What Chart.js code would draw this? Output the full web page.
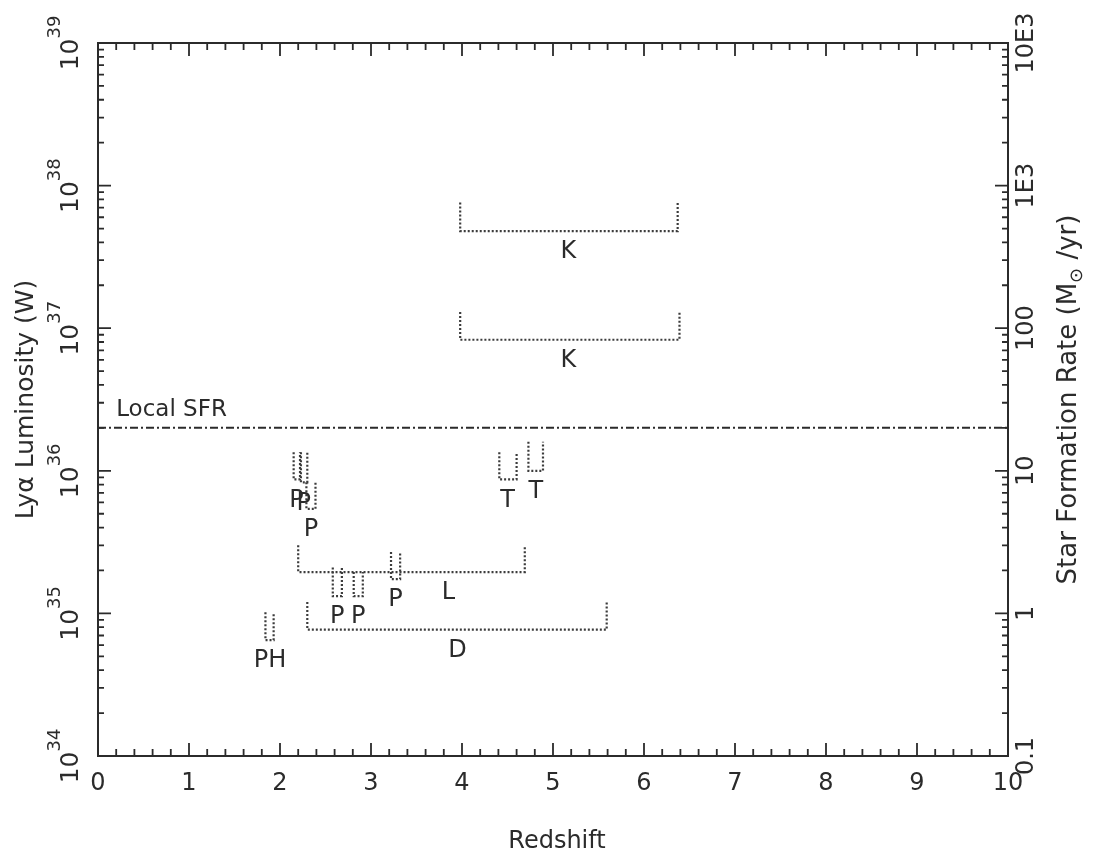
<!DOCTYPE html>
<html>
<head>
<meta charset="utf-8">
<script src="https://cdn.jsdelivr.net/npm/chart.js@4.4.1/dist/chart.umd.min.js"></script>
<style>
	html, body { margin: 0; padding: 0; background: #fff; }
	#wrap { width: 1094px; height: 862px; position: relative; }
</style>
</head>
<body>
<div id="wrap"><canvas id="myChart"></canvas></div>
<script>
// survey windows: redshift range, Lya limit (W) and top of the bracket arms
var surveyNames = ['K', 'K', 'T', 'T', 'P', 'P', 'P', 'L', 'P', 'P', 'P', 'D', 'PH'];
var zMin = [3.98, 3.98, 4.41, 4.73, 2.15, 2.23, 2.29, 2.20, 2.58, 2.81, 3.22, 2.30, 1.84];
var zMax = [6.37, 6.39, 4.60, 4.89, 2.22, 2.30, 2.39, 4.69, 2.68, 2.91, 3.32, 5.59, 1.93];
var lumLimit = [4.8e37, 8.3e36, 8.7e35, 1.0e36, 8.7e35, 8.3e35, 5.4e35, 1.95e35, 1.32e35, 1.32e35, 1.74e35, 7.7e34, 6.5e34];
var lumArm = [7.6e37, 1.3e37, 1.35e36, 1.6e36, 1.35e36, 1.35e36, 8.3e35, 3.0e35, 2.1e35, 1.95e35, 2.7e35, 1.2e35, 1.02e35];
// redshift where each survey letter sits
var labelZ = [5.17, 5.17, 4.50, 4.81, 2.18, 2.26, 2.34, 3.85, 2.63, 2.86, 3.27, 3.95, 1.89];

// local star formation rate (Msun/yr, right axis)
var localSfr = 20;

var redshiftTicks = [0, 1, 2, 3, 4, 5, 6, 7, 8, 9, 10];
var lumTickPowers = [34, 35, 36, 37, 38, 39];
var sfrTicks = [0.1, 1, 10, 100, 1000, 10000];
var sfrTickLabels = ['0.1', '1', '10', '100', '1E3', '10E3'];

var ink = '#2b2b2b';
var font = '"DejaVu Sans", sans-serif';

var datasets = surveyNames.map(function (name, i) {
	return {
		label: name,
		data: [
			{ x: zMin[i], y: lumArm[i] },
			{ x: zMin[i], y: lumLimit[i] },
			{ x: zMax[i], y: lumLimit[i] },
			{ x: zMax[i], y: lumArm[i] }
		],
		showLine: true,
		borderColor: '#3c3c3c',
		borderWidth: 2.2,
		borderDash: [2, 2],
		pointRadius: 0,
		fill: false,
		yAxisID: 'y'
	};
});

datasets.push({
	label: 'Local SFR',
	data: [{ x: 0, y: localSfr }, { x: 10, y: localSfr }],
	showLine: true,
	borderColor: '#2b2b2b',
	borderWidth: 2,
	borderDash: [8, 3, 2, 3],
	pointRadius: 0,
	fill: false,
	yAxisID: 'y2'
});

// draws frame, ticks and all text from the chart scales
var framePlugin = {
	id: 'frame',
	afterDraw: function (chart) {
		var ctx = chart.ctx;
		var a = chart.chartArea;
		var sx = chart.scales.x, sy = chart.scales.y, sy2 = chart.scales.y2;
		var i, m, p, px, py, len;

		ctx.save();
		ctx.strokeStyle = ink;
		ctx.fillStyle = ink;
		ctx.lineWidth = 2;
		ctx.strokeRect(a.left, a.top, a.right - a.left, a.bottom - a.top);

		// redshift ticks (top and bottom)
		ctx.lineWidth = 1.8;
		ctx.beginPath();
		for (i = 0; i <= 50; i++) {
			px = sx.getPixelForValue(i / 5);
			len = (i % 5 === 0) ? 13 : 7;
			ctx.moveTo(px, a.bottom); ctx.lineTo(px, a.bottom - len);
			ctx.moveTo(px, a.top); ctx.lineTo(px, a.top + len);
		}
		// luminosity ticks (left)
		for (p = 34; p <= 39; p++) {
			for (m = 1; m <= 9; m++) {
				if (p === 39 && m > 1) break;
				py = sy.getPixelForValue(m * Math.pow(10, p));
				len = (m === 1) ? 13 : 6;
				ctx.moveTo(a.left, py); ctx.lineTo(a.left + len, py);
			}
		}
		// SFR ticks (right)
		for (p = -1; p <= 4; p++) {
			for (m = 1; m <= 9; m++) {
				if (p === 4 && m > 1) break;
				py = sy2.getPixelForValue(m * Math.pow(10, p));
				len = (m === 1) ? 13 : 6;
				ctx.moveTo(a.right, py); ctx.lineTo(a.right - len, py);
			}
		}
		ctx.stroke();

		// bottom tick labels
		ctx.font = '24px ' + font;
		ctx.textAlign = 'center';
		ctx.textBaseline = 'middle';
		redshiftTicks.forEach(function (z) {
			ctx.fillText(String(z), sx.getPixelForValue(z), a.bottom + 28);
		});
		ctx.fillText('Redshift', (a.left + a.right) / 2 + 4, a.bottom + 86);

		// left tick labels 10^n, rotated
		lumTickPowers.forEach(function (n) {
			py = sy.getPixelForValue(Math.pow(10, n));
			ctx.save();
			ctx.translate(a.left - 20, py);
			ctx.rotate(-Math.PI / 2);
			ctx.textBaseline = 'alphabetic';
			ctx.textAlign = 'left';
			ctx.font = '25px ' + font;
			var w1 = ctx.measureText('10').width;
			ctx.font = '18px ' + font;
			var w2 = ctx.measureText(String(n)).width;
			var start = -(w1 + w2) / 2;
			ctx.font = '25px ' + font;
			ctx.fillText('10', start, 0);
			ctx.font = '18px ' + font;
			ctx.fillText(String(n), start + w1, -18);
			ctx.restore();
		});

		// right tick labels, rotated
		sfrTicks.forEach(function (v, k) {
			py = sy2.getPixelForValue(v);
			ctx.save();
			ctx.translate(a.right + 25, py);
			ctx.rotate(-Math.PI / 2);
			ctx.textAlign = 'center';
			ctx.textBaseline = 'alphabetic';
			ctx.font = '24px ' + font;
			ctx.fillText(sfrTickLabels[k], 0, 0);
			ctx.restore();
		});

		// left axis title
		ctx.save();
		ctx.translate(33, (a.top + a.bottom) / 2);
		ctx.rotate(-Math.PI / 2);
		ctx.textAlign = 'center';
		ctx.textBaseline = 'alphabetic';
		ctx.font = '25px ' + font;
		ctx.fillText('Ly\u03b1 Luminosity (W)', 0, 0);
		ctx.restore();

		// right axis title with subscript sun symbol
		ctx.save();
		ctx.translate(a.right + 68, (a.top + a.bottom) / 2);
		ctx.rotate(-Math.PI / 2);
		ctx.textBaseline = 'alphabetic';
		ctx.textAlign = 'left';
		var t1 = 'Star Formation Rate (M', t2 = '\u2299', t3 = ' /yr)';
		ctx.font = '26px ' + font;
		var w1 = ctx.measureText(t1).width, w3 = ctx.measureText(t3).width;
		ctx.font = '18px ' + font;
		var w2 = ctx.measureText(t2).width;
		var s = -(w1 + w2 + w3) / 2;
		ctx.font = '26px ' + font;
		ctx.fillText(t1, s, 0);
		ctx.font = '18px ' + font;
		ctx.fillText(t2, s + w1, 6);
		ctx.font = '26px ' + font;
		ctx.fillText(t3, s + w1 + w2, 0);
		ctx.restore();

		// Local SFR label
		ctx.font = '23px ' + font;
		ctx.textAlign = 'left';
		ctx.textBaseline = 'alphabetic';
		ctx.fillText('Local SFR', sx.getPixelForValue(0.2), sy2.getPixelForValue(localSfr) - 12);

		// survey labels under each bracket
		ctx.font = '24px ' + font;
		ctx.textAlign = 'center';
		ctx.textBaseline = 'middle';
		surveyNames.forEach(function (name, k) {
			var cx = sx.getPixelForValue(labelZ[k]);
			var cy = sy.getPixelForValue(lumLimit[k]) + 21;
			ctx.fillText(name, cx, cy);
		});
		ctx.restore();
	}
};

var ctx = document.getElementById('myChart');
var myChart = new Chart(ctx, {
	type: 'scatter',
	data: { datasets: datasets },
	options: {
		responsive: true,
		maintainAspectRatio: false,
		animation: false,
		layout: { padding: { left: 98, right: 86, top: 43, bottom: 106 } },
		plugins: { legend: { display: false }, tooltip: { enabled: false } },
		scales: {
			x: { type: 'linear', min: 0, max: 10, display: false },
			y: { type: 'logarithmic', min: 1e34, max: 1e39, display: false },
			y2: { type: 'logarithmic', min: 0.1, max: 10000, display: false, position: 'right' }
		}
	},
	plugins: [framePlugin]
});
</script>
</body>
</html>
